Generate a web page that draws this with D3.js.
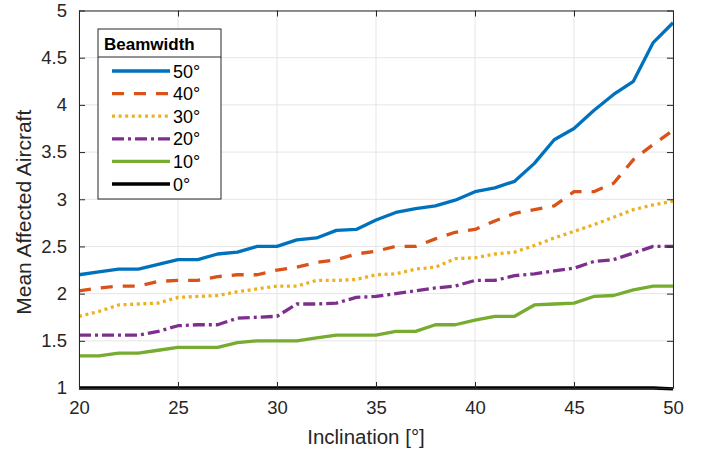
<!DOCTYPE html>
<html>
<head>
<meta charset="utf-8">
<script src="https://cdn.jsdelivr.net/npm/d3@7"></script>
<style>
  body { margin: 0; background: #fff; }
  text { font-family: "Liberation Sans", Arial, Helvetica, sans-serif; }
</style>
</head>
<body>
<div id="chart"></div>
<script>
// data
const inclination = d3.range(20, 51);
const beam50 = [2.20, 2.23, 2.26, 2.26, 2.31, 2.36, 2.36, 2.42, 2.44, 2.50, 2.50, 2.57, 2.59, 2.67, 2.68, 2.78, 2.86, 2.90, 2.93, 2.99, 3.08, 3.12, 3.19, 3.38, 3.63, 3.75, 3.94, 4.11, 4.25, 4.66, 4.87];
const beam40 = [2.03, 2.06, 2.08, 2.08, 2.13, 2.14, 2.14, 2.18, 2.20, 2.20, 2.25, 2.28, 2.33, 2.36, 2.42, 2.45, 2.50, 2.50, 2.58, 2.65, 2.68, 2.77, 2.85, 2.89, 2.93, 3.08, 3.08, 3.17, 3.42, 3.58, 3.73];
const beam30 = [1.76, 1.81, 1.88, 1.89, 1.90, 1.96, 1.97, 1.98, 2.02, 2.05, 2.08, 2.08, 2.14, 2.14, 2.15, 2.20, 2.21, 2.26, 2.28, 2.37, 2.38, 2.42, 2.44, 2.51, 2.59, 2.66, 2.73, 2.81, 2.89, 2.94, 2.98];
const beam20 = [1.56, 1.56, 1.56, 1.56, 1.60, 1.66, 1.67, 1.67, 1.74, 1.75, 1.76, 1.89, 1.89, 1.90, 1.96, 1.97, 2.00, 2.03, 2.06, 2.08, 2.14, 2.14, 2.19, 2.21, 2.24, 2.27, 2.34, 2.36, 2.43, 2.50, 2.50];
const beam10 = [1.34, 1.34, 1.37, 1.37, 1.40, 1.43, 1.43, 1.43, 1.48, 1.50, 1.50, 1.50, 1.53, 1.56, 1.56, 1.56, 1.60, 1.60, 1.67, 1.67, 1.72, 1.76, 1.76, 1.88, 1.89, 1.90, 1.97, 1.98, 2.04, 2.08, 2.08];
const beam0 = [1, 1, 1, 1, 1, 1, 1, 1, 1, 1, 1, 1, 1, 1, 1, 1, 1, 1, 1, 1, 1, 1, 1, 1, 1, 1, 1, 1, 1, 1, 0.99];
const seriesNames = ["50°", "40°", "30°", "20°", "10°", "0°"];
const xTicks = [20, 25, 30, 35, 40, 45, 50];
const yTicks = [1, 1.5, 2, 2.5, 3, 3.5, 4, 4.5, 5];

const width = 702, height = 451;
const margin = {left: 79, right: 29, top: 10.5, bottom: 63};
const plotW = width - margin.left - margin.right;
const plotH = height - margin.top - margin.bottom;

// line styles, same order as seriesNames
const colors = ["#0072BD", "#D95319", "#EDB120", "#7E2F8E", "#77AC30", "#000000"];
const dashes = [null, "12,10", "3,3.6", "12,4,3,4", null, null];
const allSeries = [beam50, beam40, beam30, beam20, beam10, beam0];

let svg = d3.select("#chart")
    .append("svg")
    .attr("width", width)
    .attr("height", height)
    .append("g")
    .attr("transform", `translate(${margin.left}, ${margin.top})`);

let x = d3.scaleLinear().domain([20, 50]).range([0, plotW]);
let y = d3.scaleLinear().domain([1, 5]).range([plotH, 0]);

// grid
svg.append("g")
    .selectAll("line")
    .data(xTicks)
    .enter().append("line")
    .attr("x1", d => x(d)).attr("x2", d => x(d))
    .attr("y1", 0).attr("y2", plotH)
    .attr("stroke", "#e5e5e5").attr("stroke-width", 1);
svg.append("g")
    .selectAll("line")
    .data(yTicks)
    .enter().append("line")
    .attr("x1", 0).attr("x2", plotW)
    .attr("y1", d => y(d)).attr("y2", d => y(d))
    .attr("stroke", "#e5e5e5").attr("stroke-width", 1);

// series
let line = d3.line()
    .x((d, i) => x(inclination[i]))
    .y(d => y(d));

for (let i = allSeries.length - 1; i >= 0; i--) {
    svg.append("path")
        .datum(allSeries[i])
        .attr("fill", "none")
        .attr("stroke", colors[i])
        .attr("stroke-width", 3.3)
        .attr("stroke-dasharray", dashes[i])
        .attr("stroke-linejoin", "round")
        .attr("d", line);
}

// axes (inward ticks, box)
const axisColor = "#262626";
let bottomAxis = svg.append("g")
    .attr("transform", `translate(0, ${plotH})`)
    .call(d3.axisBottom(x).tickValues(xTicks).tickSizeInner(-6).tickSizeOuter(0).tickPadding(13));
let topAxis = svg.append("g")
    .call(d3.axisTop(x).tickValues(xTicks).tickSizeInner(-6).tickSizeOuter(0).tickFormat(""));
let leftAxis = svg.append("g")
    .call(d3.axisLeft(y).tickValues(yTicks).tickSizeInner(-6).tickSizeOuter(0).tickPadding(12).tickFormat(d3.format("")));
let rightAxis = svg.append("g")
    .attr("transform", `translate(${plotW}, 0)`)
    .call(d3.axisRight(y).tickValues(yTicks).tickSizeInner(-6).tickSizeOuter(0).tickFormat(""));

[bottomAxis, topAxis, leftAxis, rightAxis].forEach(function(a) {
    a.select(".domain").attr("stroke", axisColor).attr("stroke-width", 1);
    a.selectAll(".tick line").attr("stroke", axisColor);
    a.selectAll(".tick text")
        .attr("fill", axisColor)
        .style("font-size", "18.5px")
        .style("font-family", "'Liberation Sans', Arial, sans-serif");
});

// axis labels
svg.append("text")
    .attr("x", plotW / 2 - 10)
    .attr("y", plotH + 56)
    .style("text-anchor", "middle")
    .style("font-size", "20.5px")
    .attr("fill", axisColor)
    .text("Inclination [°]");

svg.append("text")
    .attr("transform", `translate(-48, ${plotH / 2 + 13}) rotate(-90)`)
    .style("text-anchor", "middle")
    .style("font-size", "21px")
    .attr("fill", axisColor)
    .text("Mean Affected Aircraft");

// legend
const lg = {x: 98 - margin.left, y: 29 - margin.top, w: 123, h: 170, titleH: 28, row: 22.6};
let legend = svg.append("g").attr("transform", `translate(${lg.x}, ${lg.y})`);
legend.append("rect")
    .attr("width", lg.w).attr("height", lg.h)
    .attr("fill", "#fff").attr("stroke", "#262626").attr("stroke-width", 1);
legend.append("line")
    .attr("x1", 0).attr("x2", lg.w)
    .attr("y1", lg.titleH).attr("y2", lg.titleH)
    .attr("stroke", "#262626").attr("stroke-width", 1);
legend.append("text")
    .attr("x", 6).attr("y", 21)
    .style("font-size", "17px")
    .style("font-weight", "bold")
    .attr("fill", "#000")
    .text("Beamwidth");

for (let i = 0; i < seriesNames.length; i++) {
    let ry = 42 + i * lg.row;
    legend.append("line")
        .attr("x1", 14).attr("x2", 72)
        .attr("y1", ry).attr("y2", ry)
        .attr("stroke", colors[i])
        .attr("stroke-width", 3.3)
        .attr("stroke-dasharray", dashes[i]);
    legend.append("text")
        .attr("x", 75).attr("y", ry + 6.5)
        .style("font-size", "18px")
        .attr("fill", "#000")
        .text(seriesNames[i]);
}
</script>
</body>
</html>
